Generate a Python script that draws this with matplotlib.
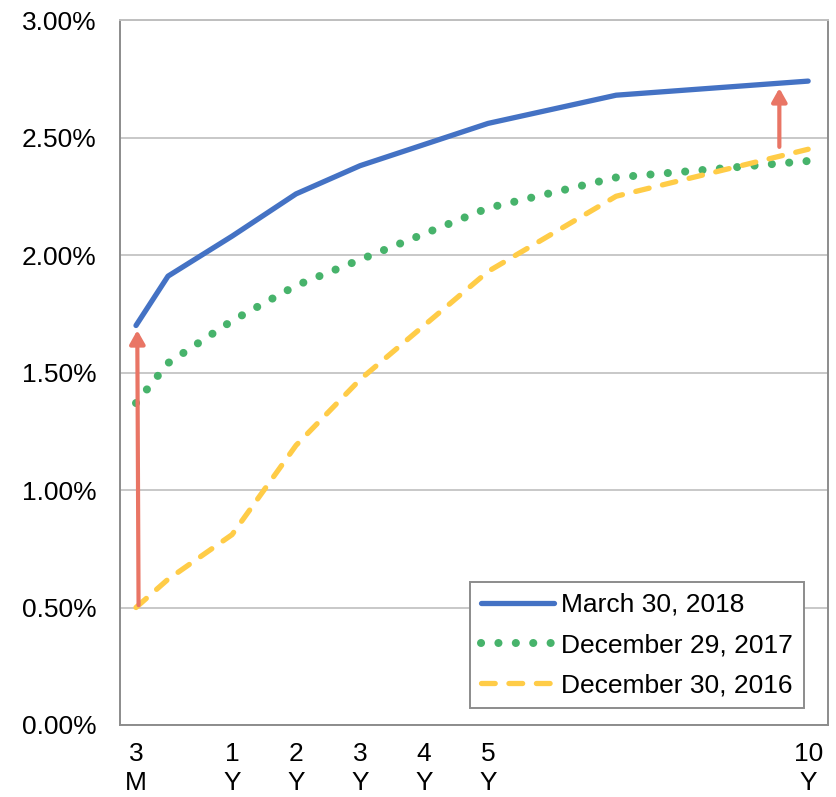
import matplotlib
matplotlib.use("Agg")
import matplotlib.pyplot as plt

# maturities placed on the axis (3M and 6M squeezed in before 1Y)
maturities = ["3M", "6M", "1Y", "2Y", "3Y", "5Y", "7Y", "10Y"]
x_pos = [-0.5, 0, 1, 2, 3, 5, 7, 10]

mar_2018 = [1.70, 1.91, 2.08, 2.26, 2.38, 2.56, 2.68, 2.74]
dec_2017 = [1.37, 1.54, 1.72, 1.87, 1.98, 2.20, 2.33, 2.40]
dec_2016 = [0.50, 0.62, 0.81, 1.19, 1.47, 1.93, 2.25, 2.45]

tick_pos = [-0.5, 1, 2, 3, 4, 5, 10]
tick_labels = ["3\nM", "1\nY", "2\nY", "3\nY", "4\nY", "5\nY", "10\nY"]
y_ticks = [0, 0.5, 1.0, 1.5, 2.0, 2.5, 3.0]

plt.rcParams['font.family'] = ['Liberation Sans', 'DejaVu Sans']

fig = plt.figure(figsize=(8.36, 7.97), dpi=100)
ax = fig.add_axes([120/836, 1-725/797, 708/836, 705/797])

ax.plot(x_pos, mar_2018, color='#4472C4', lw=3.8, solid_capstyle='round',
        label='March 30, 2018', zorder=3)
ax.plot(x_pos, dec_2017, color='#47B36B', lw=5.8, linestyle=(0, (0.01, 2.15)),
        dash_capstyle='round', label='December 29, 2017', zorder=3)
ax.plot(x_pos, dec_2016, color='#FFCC47', lw=3.8, linestyle=(0, (2.6, 2.6)),
        dash_capstyle='round', label='December 30, 2016', zorder=3)

# arrows showing the move
arrow_kw = dict(arrowstyle='-|>,head_length=0.8,head_width=0.45', color='#E97565',
                lw=3, shrinkA=0, shrinkB=0)
ax.annotate('', xy=(-0.48, 1.68), xytext=(-0.46, 0.51), arrowprops=arrow_kw, zorder=4)
ax.annotate('', xy=(9.55, 2.71), xytext=(9.55, 2.46), arrowprops=arrow_kw, zorder=4)

ax.set_xlim(-0.75, 10.31)
ax.set_ylim(0, 3.0)
ax.set_yticks(y_ticks)
ax.set_yticklabels([f"{v:.2f}%" for v in y_ticks], fontsize=19)
ax.set_xticks(tick_pos)
ax.set_xticklabels(tick_labels, fontsize=19, family=['Liberation Sans Narrow', 'Liberation Sans'],
                   linespacing=1.28)
ax.tick_params(axis='both', length=0)
ax.tick_params(axis='y', pad=17)
ax.tick_params(axis='x', pad=12)

ax.grid(axis='y', color='#BFBFBF', lw=1.2)
ax.set_axisbelow(True)
for s in ax.spines.values():
    s.set_color('#8C8C8C')
    s.set_linewidth(1.4)
ax.spines['top'].set_color('#BFBFBF')

leg = ax.legend(loc='lower right', bbox_to_anchor=(0.966, 0.024), fontsize=19,
                fancybox=False, edgecolor='#8C8C8C', framealpha=1,
                handlelength=2.75, handletextpad=0.3, borderpad=0.4,
                labelspacing=0.62, borderaxespad=0)
leg.get_frame().set_linewidth(1.4)

fig.savefig('out.png', dpi=100)
